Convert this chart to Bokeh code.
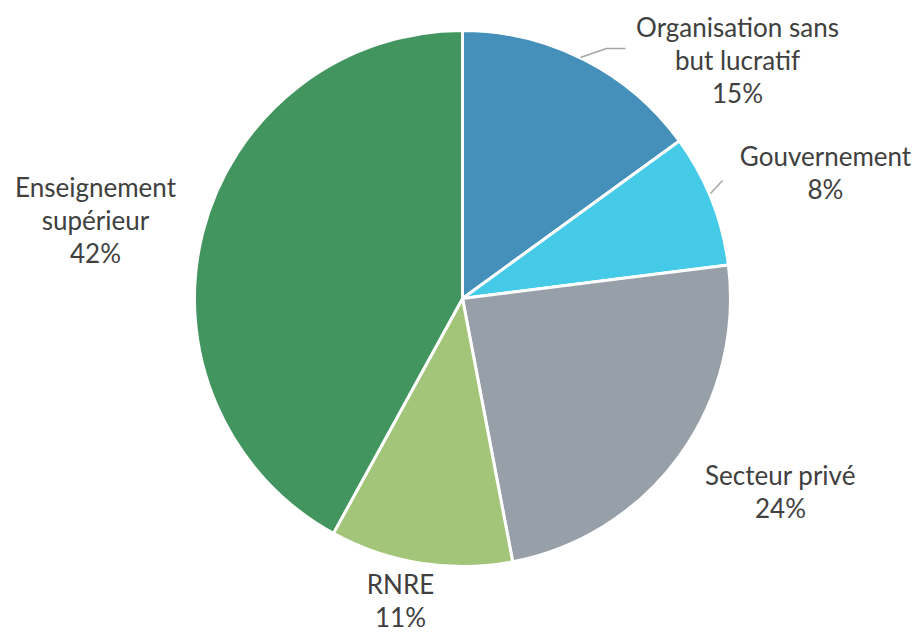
import math
from bokeh.plotting import figure
from bokeh.models import Range1d, ColumnDataSource
from bokeh.core.properties import value
from bokeh.embed import file_html
from bokeh.resources import INLINE

# ---- data ----
categories = ["Organisation sans\nbut lucratif", "Gouvernement", "Secteur privé", "RNRE", "Enseignement\nsupérieur"]
values = [15, 8, 24, 11, 42]
colors = ["#4590BB", "#45CBE8", "#979FA8", "#A2C579", "#42955E"]

# ---- layout (screen pixel coords converted to data coords) ----
W, H = 918, 631
def sx(x):
    return x
def sy(y):
    return H - y

cx, cy, R = sx(462), sy(298), 268
label_pos = [(737, 26), (825, 155), (780, 474), (400, 583), (95, 186)]
line_h = 33

p = figure(width=W, height=H, output_backend="svg", toolbar_location=None,
           x_range=Range1d(0, W), y_range=Range1d(0, H), min_border=0)
p.axis.visible = False
p.grid.visible = False
p.outline_line_color = None
p.background_fill_color = "white"

total = sum(values)
starts, ends = [], []
a = math.pi / 2
for v in values:
    starts.append(a)
    a -= v / total * 2 * math.pi
    ends.append(a)

src = ColumnDataSource(dict(start=starts, end=ends, color=colors))
p.wedge(x=cx, y=cy, radius=R, radius_units="screen", start_angle="start", end_angle="end",
        direction="clock", fill_color="color", line_color="white", line_width=3, source=src)

# leader lines
p.line(x=[sx(580), sx(606), sx(625)], y=[sy(57), sy(48), sy(48)], line_color="#A6A6A6", line_width=1.5)
p.line(x=[sx(710), sx(722)], y=[sy(193), sy(180)], line_color="#A6A6A6", line_width=1.5)

xs, ys, texts = [], [], []
for cat, v, (lx, ly) in zip(categories, values, label_pos):
    lines = cat.split("\n") + [f"{v}%"]
    for i, t in enumerate(lines):
        xs.append(sx(lx))
        ys.append(sy(ly + i * line_h))
        texts.append(t)

p.text(x=xs, y=ys, text=texts, text_align="center", text_baseline="middle",
       text_font=value("Lato"), text_font_size="26px", text_color="#404040")

open("out.html", "w").write(file_html(p, INLINE))
